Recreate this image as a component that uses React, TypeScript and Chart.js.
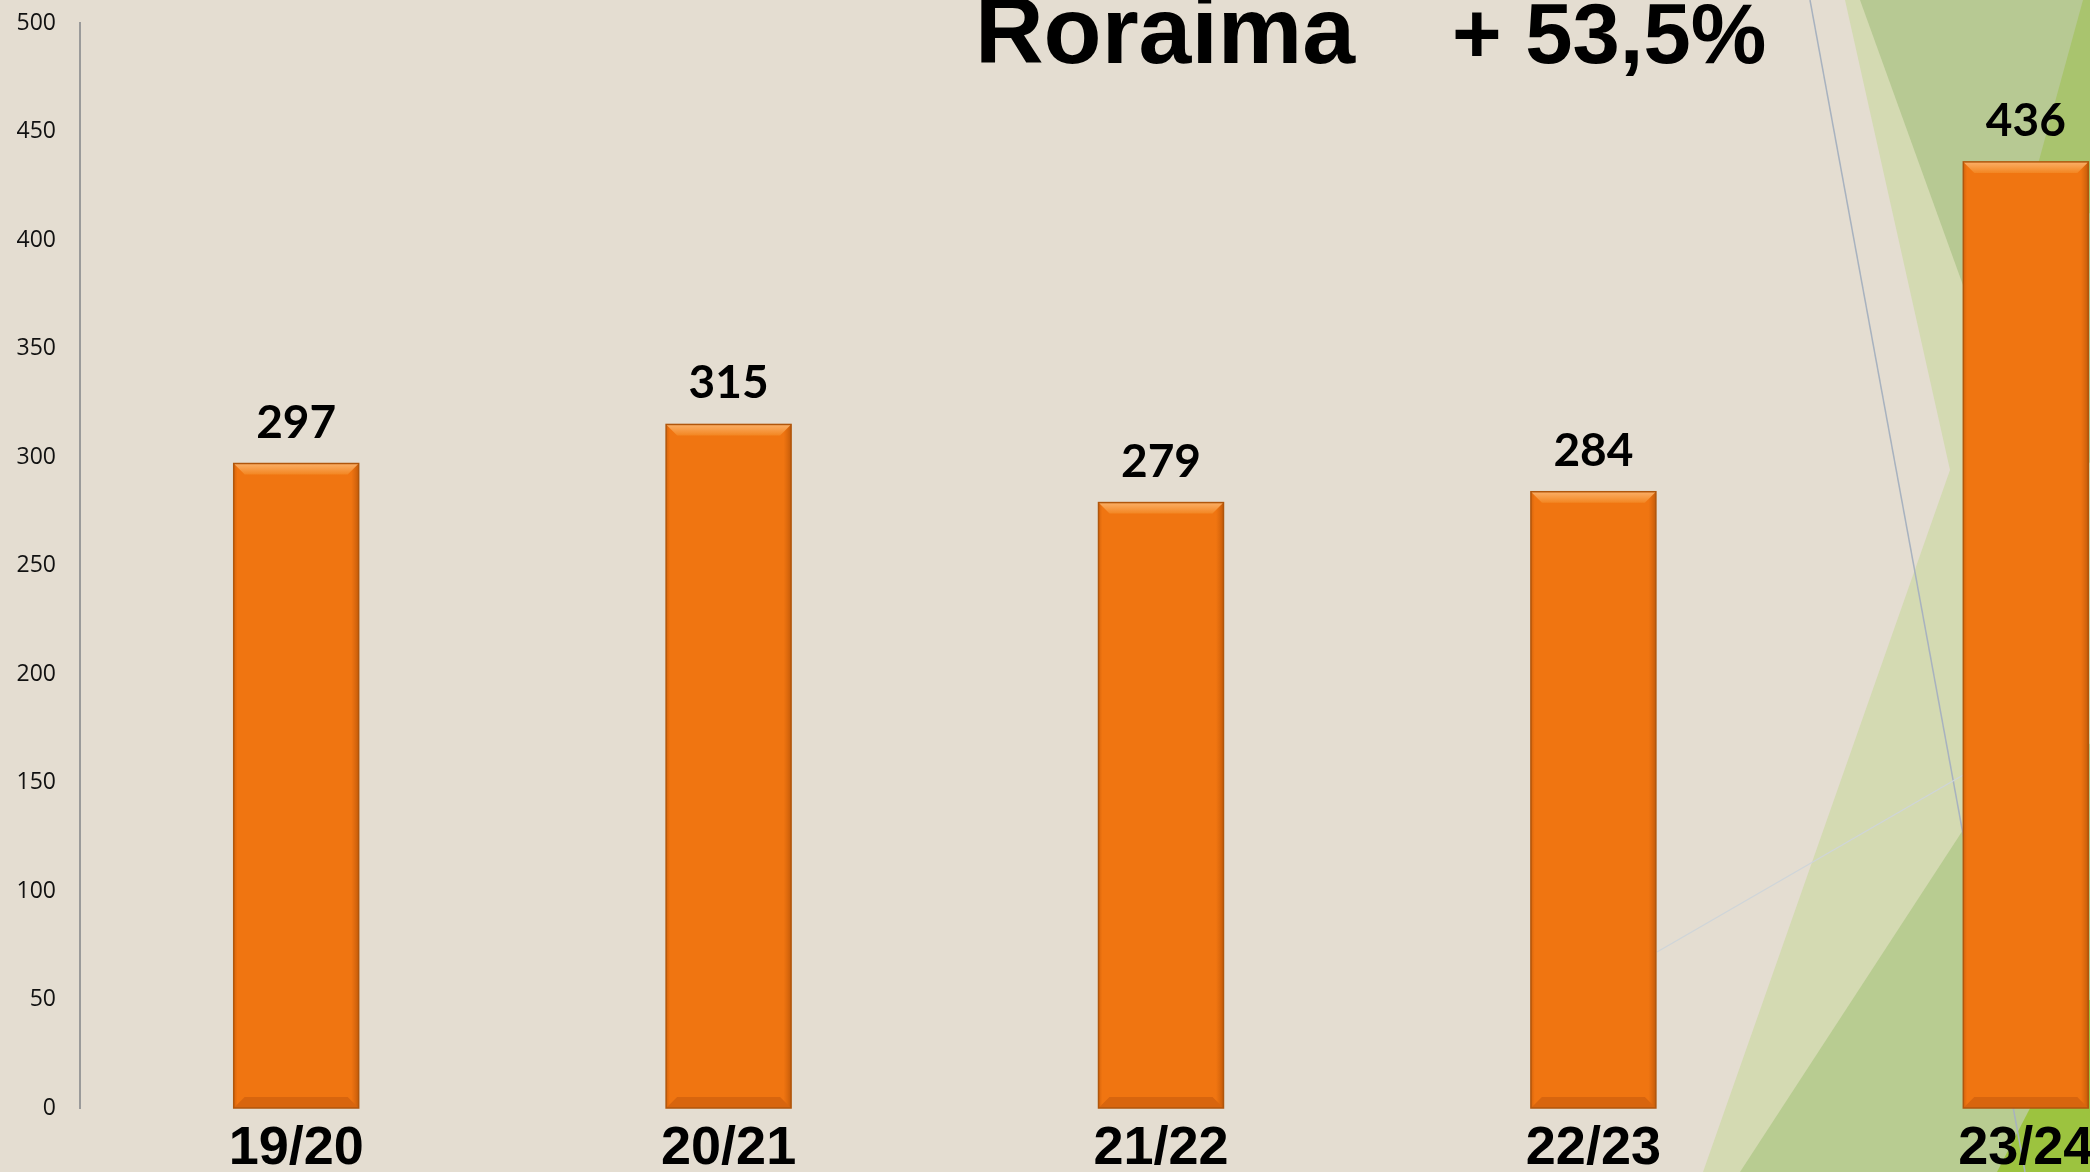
import React, { useEffect, useRef } from "react";
import { Chart, registerables } from "chart.js";

Chart.register(...registerables);

const categories = ["19/20", "20/21", "21/22", "22/23", "23/24"];
const values = [297, 315, 279, 284, 436];
const yMin = 0;
const yMax = 500;
const yStep = 50;
const titleMain = "Roraima";
const titleGrowth = "+ 53,5%";

const backgroundPlugin = {
  id: "slideBackground",
  beforeDraw(chart: any) {
    const ctx = chart.ctx as CanvasRenderingContext2D;
    const W = chart.width;
    const H = chart.height;
    ctx.save();
    ctx.fillStyle = "#e4ddd1";
    ctx.fillRect(0, 0, W, H);
    const poly = (pts: number[][], color: string) => {
      ctx.beginPath();
      ctx.moveTo(pts[0][0], pts[0][1]);
      for (let i = 1; i < pts.length; i++) ctx.lineTo(pts[i][0], pts[i][1]);
      ctx.closePath();
      ctx.fillStyle = color;
      ctx.fill();
    };
    poly([[1845, 0], [W, 0], [W, H], [1703, H], [1950, 470]], "#d4dab2");
    poly([[1860, 0], [W, 0], [W, 620], [1990, 360]], "#b7c993");
    poly([[1963, 830], [W, 640], [W, H], [1740, H]], "#b8cc91");
    poly([[2083, 0], [W, 0], [W, 320], [2035, 175]], "#a9c46e");
    poly([[2086, 1000], [W, 1000], [W, H], [1997, H]], "#9cc33f");
    ctx.lineWidth = 1.5;
    ctx.strokeStyle = "#a8b2bf";
    ctx.beginPath();
    ctx.moveTo(1810, 0);
    ctx.lineTo(2025, H);
    ctx.stroke();
    ctx.lineWidth = 1.2;
    ctx.strokeStyle = "#cfd5d9";
    ctx.beginPath();
    ctx.moveTo(1657, 952);
    ctx.lineTo(1965, 774);
    ctx.stroke();
    ctx.restore();
  },
};

const bevelPlugin = {
  id: "barBevel",
  afterDatasetsDraw(chart: any) {
    const ctx = chart.ctx as CanvasRenderingContext2D;
    const meta = chart.getDatasetMeta(0);
    ctx.save();
    meta.data.forEach((bar: any, i: number) => {
      const { x, y, base, width } = bar.getProps(["x", "y", "base", "width"], true);
      const L = x - width / 2;
      const R = x + width / 2;
      const T = y;
      const B = base;
      const b = 11;
      const gs = ctx.createLinearGradient(L, 0, R, 0);
      gs.addColorStop(0, "rgba(170,70,0,0.35)");
      gs.addColorStop(0.03, "rgba(170,70,0,0)");
      gs.addColorStop(0.94, "rgba(170,70,0,0)");
      gs.addColorStop(1, "rgba(140,60,0,0.45)");
      ctx.fillStyle = gs;
      ctx.fillRect(L, T, R - L, B - T);
      const gt = ctx.createLinearGradient(0, T, 0, T + b);
      gt.addColorStop(0, "#fbb068");
      gt.addColorStop(1, "#f38622");
      ctx.fillStyle = gt;
      ctx.beginPath();
      ctx.moveTo(L, T);
      ctx.lineTo(R, T);
      ctx.lineTo(R - b, T + b);
      ctx.lineTo(L + b, T + b);
      ctx.closePath();
      ctx.fill();
      ctx.fillStyle = "#d8650e";
      ctx.beginPath();
      ctx.moveTo(L, B);
      ctx.lineTo(R, B);
      ctx.lineTo(R - b, B - b);
      ctx.lineTo(L + b, B - b);
      ctx.closePath();
      ctx.fill();
      ctx.strokeStyle = "#b0560c";
      ctx.lineWidth = 1.5;
      ctx.strokeRect(L, T, R - L, B - T);
      ctx.fillStyle = "#000";
      ctx.font = "bold 46px Lato";
      ctx.textAlign = "center";
      ctx.textBaseline = "alphabetic";
      ctx.fillText(String(values[i]), x, T - 26);
    });
    ctx.restore();
  },
};

const titlePlugin = {
  id: "slideTitle",
  afterDraw(chart: any) {
    const ctx = chart.ctx as CanvasRenderingContext2D;
    ctx.save();
    ctx.fillStyle = "#000";
    ctx.textAlign = "left";
    ctx.textBaseline = "alphabetic";
    ctx.font = "bold 95px 'Liberation Sans'";
    ctx.fillText(titleMain, 975, 63);
    ctx.font = "bold 85px 'Liberation Sans'";
    ctx.fillText(titleGrowth, 1452, 63);
    ctx.restore();
  },
};

export default function App() {
  const canvasRef = useRef<HTMLCanvasElement | null>(null);

  useEffect(() => {
    if (!canvasRef.current) return;
    const chart = new Chart(canvasRef.current, {
      type: "bar",
      data: {
        labels: categories,
        datasets: [
          {
            data: values,
            backgroundColor: "#f07511",
            borderWidth: 0,
            barPercentage: 0.289,
            categoryPercentage: 1,
          },
        ],
      },
      options: {
        responsive: false,
        animation: false,
        devicePixelRatio: 1,
        layout: { padding: { top: 23, left: 0, right: 0, bottom: 0 } },
        plugins: {
          legend: { display: false },
          tooltip: { enabled: false },
          title: { display: false },
        },
        scales: {
          x: {
            grid: { display: false, drawTicks: false },
            border: { display: false },
            ticks: {
              color: "#000",
              padding: 9,
              font: { family: "'Liberation Sans'", size: 54, weight: "bold" },
            },
            afterFit(scale: any) {
              scale.height = 64;
            },
          },
          y: {
            min: yMin,
            max: yMax,
            grid: { display: false, drawTicks: false },
            border: { display: true, color: "#9a9a9a", width: 2 },
            ticks: {
              stepSize: yStep,
              color: "#111",
              padding: 24,
              font: { family: "'Open Sans'", size: 23 },
            },
            afterFit(scale: any) {
              scale.width = 80;
              scale.paddingTop = 0;
              scale.paddingBottom = 0;
            },
          },
        },
      },
      plugins: [backgroundPlugin, bevelPlugin, titlePlugin],
    });
    return () => chart.destroy();
  }, []);

  return (
    <div
      style={{
        position: "fixed",
        left: 0,
        top: 0,
        width: 2090,
        height: 1172,
        overflow: "hidden",
        background: "#e4ddd1",
      }}
    >
      <canvas ref={canvasRef} width={2242} height={1172} style={{ display: "block" }} />
    </div>
  );
}
